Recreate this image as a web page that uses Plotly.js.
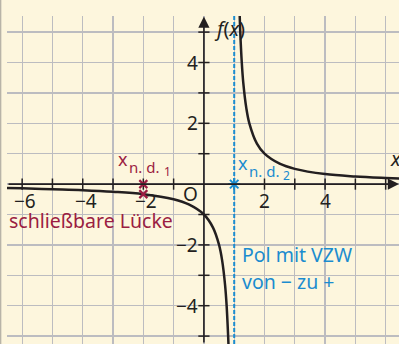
<!DOCTYPE html>
<html><head><meta charset="utf-8">
<script src="https://cdn.plot.ly/plotly-3.0.1.min.js"></script>
<style>html,body{margin:0;padding:0;background:#fdf6dd;}#c{width:399px;height:344px;}</style>
</head><body><div id="c"></div>
<script>
// Curve values (left and right branch)
const leftX = [-6.5, -6, -5, -4, -3, -2, -1, -0.5, 0, 0.3, 0.5, 0.6, 0.7, 0.75, 0.8, 0.82];
const leftY = [-0.13, -0.14, -0.17, -0.2, -0.25, -0.33, -0.5, -0.67, -1, -1.43, -2, -2.5, -3.33, -4, -5, -5.5];
const rightX = [1.18, 1.2, 1.25, 1.3, 1.4, 1.5, 1.75, 2, 2.5, 3, 4, 5, 6, 6.5];
const rightY = [5.6, 5, 4, 3.33, 2.5, 2, 1.33, 1, 0.67, 0.5, 0.33, 0.25, 0.2, 0.18];
// special points
const holeX = [-2, -2];
const holeY = [0, -0.33];
const poleX = [1];
const poleY = [0];
// tick labels
const xTickVals = [-6, -4, -2, 2, 4];
const xTickText = ['−6', '−4', '−2', '2', '4'];
const yTickVals = [4, 2, -2, -4];
const yTickText = ['4', '2', '−2', '−4'];
const xMarks = [-6, -5, -4, -3, -2, -1, 1, 2, 3, 4, 5, 6];
const yMarks = [-5, -4, -3, -2, -1, 1, 2, 3, 4, 5];

const dark = '#231f20', red = '#9b1d42', blue = '#1b8ccf';
const FONT = 'Noto Sans, sans-serif';
const xr = [-6.5, 6.44], yr = [-5.26, 5.53];

const traces = [
  {x: leftX, y: leftY, mode: 'lines', line: {color: dark, width: 2.5, shape: 'spline'}, hoverinfo: 'skip'},
  {x: rightX, y: rightY, mode: 'lines', line: {color: dark, width: 2.5, shape: 'spline'}, hoverinfo: 'skip'},
  {x: xMarks, y: xMarks.map(() => 0), mode: 'markers', marker: {symbol: 'line-ns-open', size: 8, color: dark, line: {color: dark, width: 1.5}}, hoverinfo: 'skip'},
  {x: yMarks.map(() => 0), y: yMarks, mode: 'markers', marker: {symbol: 'line-ew-open', size: 8, color: dark, line: {color: dark, width: 1.5}}, hoverinfo: 'skip'},
  {x: holeX, y: holeY, mode: 'markers', marker: {symbol: 'x-thin-open', size: 8, color: red, line: {color: red, width: 2.2}}, hoverinfo: 'skip'},
  {x: poleX, y: poleY, mode: 'markers', marker: {symbol: 'asterisk-open', size: 10, color: blue, line: {color: blue, width: 2}}, hoverinfo: 'skip'}
];

const ann = [];
// axes with arrows
ann.push({x: xr[1], y: 0, ax: xr[0], ay: 0, axref: 'x', ayref: 'y', xref: 'x', yref: 'y', text: '', showarrow: true, arrowhead: 2, arrowsize: 1.4, arrowwidth: 1.6, arrowcolor: dark, standoff: 0});
ann.push({x: 0, y: yr[1] - 0.02, ax: 0, ay: yr[0], axref: 'x', ayref: 'y', xref: 'x', yref: 'y', text: '', showarrow: true, arrowhead: 2, arrowsize: 1.4, arrowwidth: 1.6, arrowcolor: dark, standoff: 0});
xTickVals.forEach((v, i) => ann.push({x: v, y: 0, text: xTickText[i], showarrow: false, yanchor: 'top', yshift: -2, xshift: v < 0 ? 3 : 0, font: {family: FONT, size: 19, color: dark}}));
yTickVals.forEach((v, i) => ann.push({x: 0, y: v, text: yTickText[i], showarrow: false, xanchor: 'right', xshift: -4, font: {family: FONT, size: 19, color: dark}}));
ann.push({x: -0.43, y: -0.33, text: 'O', showarrow: false, font: {family: FONT, size: 19, color: dark}});
ann.push({x: 0.86, y: 5.13, text: '<i>f</i>(<i>x</i>)', showarrow: false, font: {family: FONT, size: 20, color: dark}});
ann.push({x: 6.34, y: 0.85, text: '<i>x</i>', showarrow: false, font: {family: FONT, size: 20, color: dark}});
// x n.d.1 (red)
ann.push({x: -2.9, y: 0.82, text: 'x', showarrow: false, xanchor: 'left', font: {family: FONT, size: 18, color: red}});
ann.push({x: -2.54, y: 0.56, text: 'n. d.', showarrow: false, xanchor: 'left', font: {family: FONT, size: 15, color: red}});
ann.push({x: -1.38, y: 0.42, text: '1', showarrow: false, xanchor: 'left', font: {family: FONT, size: 12, color: red}});
// x n.d.2 (blue)
ann.push({x: 1.06, y: 0.68, text: 'x', showarrow: false, xanchor: 'left', font: {family: FONT, size: 18, color: blue}});
ann.push({x: 1.42, y: 0.42, text: 'n. d.', showarrow: false, xanchor: 'left', font: {family: FONT, size: 15, color: blue}});
ann.push({x: 2.55, y: 0.28, text: '2', showarrow: false, xanchor: 'left', font: {family: FONT, size: 12, color: blue}});
ann.push({x: -6.5, y: -1.2, text: 'schließbare Lücke', showarrow: false, xanchor: 'left', font: {family: FONT, size: 19.5, color: red}});
ann.push({x: 1.18, y: -2.3, text: 'Pol mit VZW', showarrow: false, xanchor: 'left', font: {family: FONT, size: 19.5, color: blue}});
ann.push({x: 1.18, y: -3.19, text: 'von − zu +', showarrow: false, xanchor: 'left', font: {family: FONT, size: 19.5, color: blue}});

const layout = {
  width: 399, height: 344,
  margin: {l: 7, r: 0, t: 16, b: 0, pad: 0},
  paper_bgcolor: '#fdf6dd', plot_bgcolor: '#fdf6dd',
  showlegend: false,
  xaxis: {range: xr, dtick: 1, tick0: 0, showgrid: true, gridcolor: '#bcbcc0', gridwidth: 1.3, zeroline: false, showticklabels: false, ticks: '', showline: false, fixedrange: true},
  yaxis: {range: yr, dtick: 1, tick0: 0, showgrid: true, gridcolor: '#bcbcc0', gridwidth: 1.3, zeroline: false, showticklabels: false, ticks: '', showline: false, fixedrange: true},
  shapes: [
    {type: 'line', xref: 'x', yref: 'y', x0: 1, x1: 1, y0: yr[0], y1: yr[1], line: {color: blue, width: 2, dash: '4px,2px'}, layer: 'above'},
    {type: 'line', xref: 'paper', yref: 'paper', x0: -6.4/392, x1: -6.4/392, y0: -0.1, y1: 1.1, line: {color: '#b8b4a8', width: 1.5}}
  ],
  annotations: ann
};
Plotly.newPlot('c', traces, layout, {displayModeBar: false, staticPlot: true});
</script></body></html>
